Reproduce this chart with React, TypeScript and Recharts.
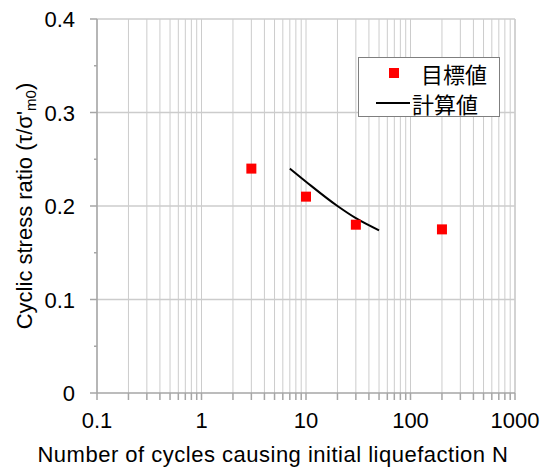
import {
  ComposedChart,
  Line,
  Scatter,
  XAxis,
  YAxis,
  CartesianGrid,
  ReferenceLine,
  Legend,
  Label,
} from 'recharts';

// 目標値 (target points)
const targetN = [3, 10, 30, 200];
const targetRatio = [0.24, 0.21, 0.18, 0.175];

// 計算値 (computed curve)
const calcN = [7, 10, 20, 30, 50];
const calcRatio = [0.24, 0.226, 0.2, 0.187, 0.174];

const decadeTicks = [0.1, 1, 10, 100, 1000];
const xGridTicks = [
  0.1, 0.2, 0.3, 0.4, 0.5, 0.6, 0.7, 0.8, 0.9,
  1, 2, 3, 4, 5, 6, 7, 8, 9,
  10, 20, 30, 40, 50, 60, 70, 80, 90,
  100, 200, 300, 400, 500, 600, 700, 800, 900,
  1000,
];
const yTicks = [0, 0.05, 0.1, 0.15, 0.2, 0.25, 0.3, 0.35, 0.4];
const yMajorTicks = [0, 0.1, 0.2, 0.3, 0.4];

const targetData = targetN.map((n, i) => ({ n, ratio: targetRatio[i] }));
const calcData = calcN.map((n, i) => ({ n, ratio: calcRatio[i] }));

const FONT = '"Liberation Sans", Arial, sans-serif';
const CJK = '"Liberation Sans", "Noto Sans CJK JP", sans-serif';
const AXIS = '#a6a6a6';
const GRID = '#cccccc';

const YTick = (props: any) => {
  const { x, y, payload } = props;
  const major = yMajorTicks.includes(payload.value);
  return (
    <g>
      <line x1={x - (major ? 7 : 3)} x2={x} y1={y} y2={y} stroke={AXIS} strokeWidth={1.5} />
      {major && (
        <text x={x - 22} y={y} dy={8} textAnchor="end" fontSize={22} fontFamily={FONT} fill="#000">
          {String(payload.value)}
        </text>
      )}
    </g>
  );
};

const SquareMark = (props: any) => (
  <rect x={props.cx - 5} y={props.cy - 5} width={10} height={10} fill="#ff0000" />
);

const YTitle = (props: any) => {
  const { viewBox } = props;
  const cx = viewBox.x - 13;
  const cy = viewBox.y + viewBox.height / 2;
  return (
    <text
      x={cx}
      y={cy}
      transform={`rotate(-90 ${cx} ${cy})`}
      textAnchor="middle"
      dominantBaseline="central"
      fontSize={22}
      fontFamily={FONT}
      fill="#000"
    >
      Cyclic stress ratio (τ/σ'
      <tspan fontSize={15} dy={6}>m0</tspan>
      <tspan dy={-6}>)</tspan>
    </text>
  );
};

const XTitle = (props: any) => {
  const { viewBox } = props;
  return (
    <text
      x={viewBox.x + viewBox.width / 2 - 33}
      y={viewBox.y + 69}
      textAnchor="middle"
      fontSize={22}
      letterSpacing={0.5}
      fontFamily={FONT}
      fill="#000"
    >
      Number of cycles causing initial liquefaction N
    </text>
  );
};

const LegendBox = () => (
  <div
    style={{
      width: 140,
      height: 58,
      border: '1px solid #7f7f7f',
      background: '#fff',
      fontFamily: CJK,
      fontSize: 22,
      color: '#000',
      boxSizing: 'content-box',
    }}
  >
    <div style={{ display: 'flex', alignItems: 'center', height: 30 }}>
      <span style={{ width: 10, height: 10, background: '#ff0000', marginLeft: 30, marginRight: 22 }} />
      <span>目標値</span>
    </div>
    <div style={{ display: 'flex', alignItems: 'center', height: 30 }}>
      <span style={{ width: 34, height: 2, background: '#000', marginLeft: 17, marginRight: 2 }} />
      <span>計算値</span>
    </div>
  </div>
);

export default function App() {
  return (
    <ComposedChart
      width={544}
      height={460}
      margin={{ top: 11, right: 37, left: 29, bottom: 15 }}
    >
      <CartesianGrid horizontal={false} stroke={GRID} />
      {yMajorTicks.slice(1).map((v) => (
        <ReferenceLine key={v} y={v} stroke={GRID} strokeWidth={1.5} />
      ))}
      <ReferenceLine x={1000} stroke={GRID} strokeWidth={1.5} />
      <XAxis
        dataKey="n"
        type="number"
        scale="log"
        domain={[0.1, 1000]}
        allowDataOverflow
        ticks={xGridTicks}
        interval={0}
        tickFormatter={(v: number) => (decadeTicks.includes(v) ? String(v) : '')}
        tick={{ fontSize: 22, fill: '#000', fontFamily: FONT }}
        tickSize={7}
        tickMargin={12}
        stroke={AXIS}
        strokeWidth={1.5}
        height={60}
      >
        <Label content={XTitle} />
      </XAxis>
      <YAxis
        type="number"
        domain={[0, 0.4]}
        ticks={yTicks}
        interval={0}
        tick={YTick}
        tickLine={false}
        tickSize={0}
        tickMargin={0}
        stroke={AXIS}
        strokeWidth={1.5}
        width={60}
      >
        <Label content={YTitle} />
      </YAxis>
      <Legend
        layout="horizontal"
        verticalAlign="middle"
        align="center"
        content={LegendBox}
        wrapperStyle={{ left: 350, top: 49, width: 'auto' }}
      />
      <Line
        data={calcData}
        dataKey="ratio"
        type="monotone"
        stroke="#000"
        strokeWidth={2}
        dot={false}
        isAnimationActive={false}
      />
      <Scatter
        data={targetData}
        dataKey="ratio"
        shape={SquareMark}
        isAnimationActive={false}
      />
    </ComposedChart>
  );
}
